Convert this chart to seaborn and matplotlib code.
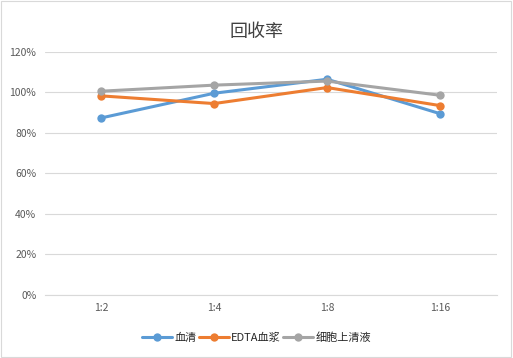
import pandas as pd
import seaborn as sns
import matplotlib.pyplot as plt
from matplotlib.ticker import PercentFormatter

ratios = ['1:2', '1:4', '1:8', '1:16']
serum = [87.4, 99.6, 106.5, 89.5]
edta = [98.3, 94.5, 102.4, 93.5]
supernatant = [100.6, 103.6, 105.6, 98.6]
series_names = ['血清', 'EDTA血浆', '细胞上清液']

rows = []
for name, vals in zip(series_names, [serum, edta, supernatant]):
    for i, v in enumerate(vals):
        rows.append({'pos': i, 'ratio': ratios[i], 'value': v, 'series': name})
df = pd.DataFrame(rows)

sns.set_style('white')
plt.rcParams['font.family'] = ['Noto Sans CJK SC', 'DejaVu Sans']

fig = plt.figure(figsize=(5.13, 3.58), dpi=100)
ax = fig.add_axes([0.087, 0.176, 0.881, 0.679])
sns.lineplot(data=df, x='pos', y='value', hue='series', hue_order=series_names,
             palette=['#5B9BD5', '#ED7D31', '#A5A5A5'], marker='o', markersize=6,
             markeredgewidth=0, linewidth=2.2, ax=ax)

ax.set_xlim(-0.5, 3.5)
ax.set_ylim(0, 120)
ax.set_yticks(range(0, 121, 20))
ax.yaxis.set_major_formatter(PercentFormatter(decimals=0))
ax.set_xticks(range(len(ratios)))
ax.set_xticklabels(ratios)
ax.tick_params(axis='both', labelsize=7.5, colors='#595959', length=0, pad=6)
ax.grid(axis='y', color='#D9D9D9', linewidth=0.8)
ax.set_axisbelow(True)
for s in ['top', 'right', 'left']:
    ax.spines[s].set_visible(False)
ax.spines['bottom'].set_color('#D9D9D9')
ax.set_xlabel('')
ax.set_ylabel('')

fig.text(0.5, 0.91, '回收率', ha='center', va='center', fontsize=13, color='#404040')

handles, labels = ax.get_legend_handles_labels()
ax.get_legend().remove()
fig.legend(handles, labels, loc='center', bbox_to_anchor=(0.5, 0.058), ncol=3, frameon=False,
           fontsize=8, handlelength=2.7, columnspacing=0.2, handletextpad=0.2)

fig.patches.append(plt.Rectangle((0.002, 0.003), 0.995, 0.994, transform=fig.transFigure,
                                 fill=False, edgecolor='#D9D9D9', linewidth=0.8))
fig.savefig('out.png', dpi=100)
